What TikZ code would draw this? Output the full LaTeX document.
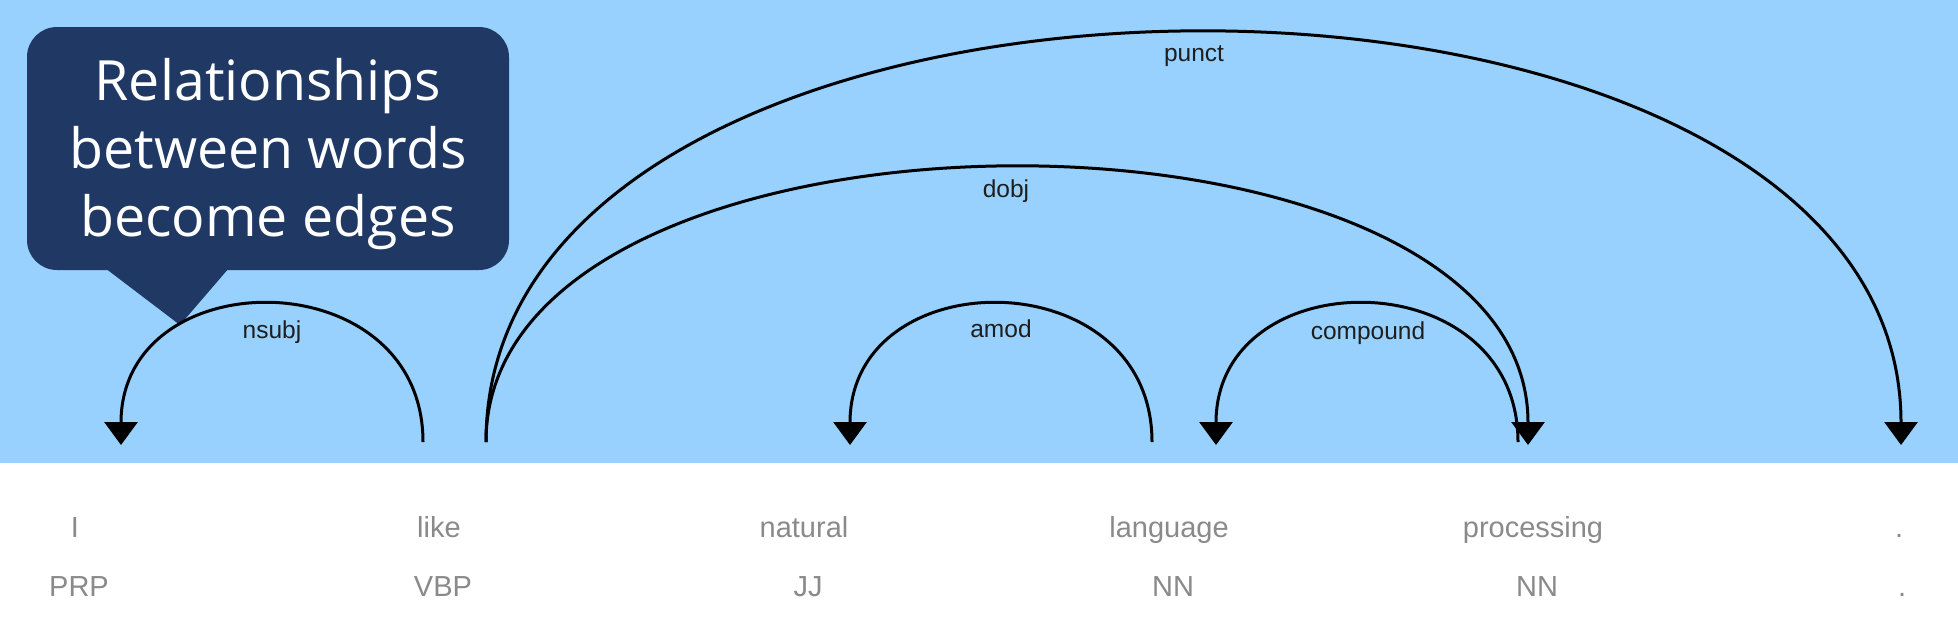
\documentclass[tikz,border=0pt]{standalone}
\usepackage{fontspec}
\setmainfont{Liberation Sans}
\newfontfamily\calloutfont{Open Sans}
\usetikzlibrary{arrows.meta}
\definecolor{skyblue}{RGB}{152,209,254}
\definecolor{navy}{RGB}{32,56,100}
\definecolor{wordgray}{RGB}{138,138,138}
\definecolor{lblblack}{RGB}{30,30,30}
\tikzset{
  arc/.style={line width=3pt, black, -{Triangle[width=33pt,length=23pt]}},
  lbl/.style={font=\fontsize{24.5}{28}\selectfont, text=lblblack, inner sep=0pt},
  word/.style={font=\fontsize{29}{34}\selectfont, text=wordgray, inner sep=0pt, anchor=base},
  calloutbox/.style={fill=navy, rounded corners=30pt, minimum width=482pt, minimum height=243pt,
    text=white, align=center, font=\calloutfont\fontsize{55.5}{68}\selectfont, inner sep=0pt},
}
\begin{document}
\begin{tikzpicture}[x=1pt,y=-1pt]
\useasboundingbox (0,0) rectangle (1958,633);
\fill[white] (0,0) rectangle (1958,633);
\fill[skyblue] (0,0) rectangle (1958,463);

% callout
\fill[navy] (105,268) -- (229,268) -- (180,325) -- cycle;
\node[calloutbox] (callout) at (268,148.5) {\rule{0pt}{53pt}Relationships\\between words\\become edges};

% words
\node[word] (wI) at (75,537) {I};
\node[word] (wlike) at (439,537) {like};
\node[word] (wnatural) at (804,537) {natural};
\node[word] (wlanguage) at (1169,537) {language};
\node[word] (wprocessing) at (1533,537) {processing};
\node[word] (wdot) at (1899,537) {.};
% tags
\node[word] (tI) at (79,596) {PRP};
\node[word] (tlike) at (443,596) {VBP};
\node[word] (tnatural) at (808,596) {JJ};
\node[word] (tlanguage) at (1173,596) {NN};
\node[word] (tprocessing) at (1537,596) {NN};
\node[word] (tdot) at (1902,596) {.};

% arc end points
\coordinate (likeA) at (423,442);
\coordinate (likeB) at (486,442);
\coordinate (Iin) at (121,445);
\coordinate (naturalIn) at (850,445);
\coordinate (languageOut) at (1152,442);
\coordinate (languageIn) at (1216,445);
\coordinate (processingOut) at (1518,442);
\coordinate (processingIn) at (1528,445);
\coordinate (dotIn) at (1901,445);

% arcs
\draw[arc] (likeA) .. controls +(0,-183) and +(0,-186) .. (Iin);
\draw[arc] (languageOut) .. controls +(0,-183) and +(0,-186) .. (naturalIn);
\draw[arc] (processingOut) .. controls +(0,-183) and +(0,-186) .. (languageIn);
\draw[arc] (likeB) .. controls +(0,-365) and +(0,-368) .. (processingIn);
\draw[arc] (likeB) .. controls +(0,-545) and +(0,-548) .. (dotIn);

% labels
\node[lbl] (lnsubj) at (272,332) {nsubj};
\node[lbl] (lamod) at (1001,329) {amod};
\node[lbl] (lcompound) at (1368,333) {compound};
\node[lbl] (ldobj) at (1006,191) {dobj};
\node[lbl] (lpunct) at (1194,56) {punct};
\end{tikzpicture}
\end{document}
